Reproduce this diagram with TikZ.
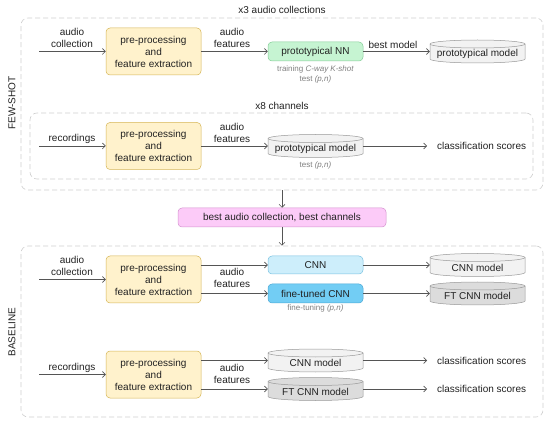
\documentclass[tikz,border=0pt]{standalone}
\usepackage{fontspec}
\setmainfont{Liberation Sans}
\usetikzlibrary{arrows.meta}
\definecolor{procfill}{HTML}{FFF2CC}
\definecolor{procline}{HTML}{D6B656}
\definecolor{nnfill}{HTML}{C6F4D2}
\definecolor{nnline}{HTML}{86CF99}
\definecolor{cnnfill}{HTML}{CDEEFB}
\definecolor{cnnline}{HTML}{7CC3E2}
\definecolor{ftfill}{HTML}{72CDF4}
\definecolor{ftline}{HTML}{4CA9D6}
\definecolor{pinkfill}{HTML}{FCCBF8}
\definecolor{pinkline}{HTML}{D593D0}
\definecolor{cylfill}{HTML}{F2F2F2}
\definecolor{cylftfill}{HTML}{DCDCDC}
\definecolor{cylline}{HTML}{999999}
\definecolor{grpline}{HTML}{D0D0D0}
\definecolor{arrowgray}{HTML}{555555}
\definecolor{notegray}{HTML}{808080}
\definecolor{txt}{HTML}{222222}

\tikzset{
  lbl/.style={font=\fontsize{10}{12}\selectfont, text=txt, align=center, inner sep=0},
  note/.style={font=\fontsize{8}{10}\selectfont, text=notegray, align=center, inner sep=0},
  proc/.style={lbl, draw=procline, fill=procfill, rounded corners=4pt, minimum width=95pt, minimum height=47pt, line width=0.5pt},
  modbox/.style={lbl, rounded corners=4pt, minimum width=95pt, minimum height=19pt, line width=0.5pt},
  grp/.style={draw=grpline, dash pattern=on 5pt off 3pt, rounded corners=7pt, inner sep=0, line width=0.6pt},
  arr/.style={draw=arrowgray, line width=0.6pt, -{Straight Barb[length=3pt,width=6pt]}},
  cylbox/.style={minimum width=95pt, minimum height=23pt, inner sep=0},
}

\newcommand{\dbcyl}[5]{%
  \path[fill=#4, draw=cylline, line width=0.5pt] (#2-47.5,#3+7.5) -- (#2-47.5,#3-7.5)
    arc[start angle=180,end angle=360,x radius=47.5,y radius=4] -- (#2+47.5,#3+7.5)
    arc[start angle=0,end angle=180,x radius=47.5,y radius=4] -- cycle;
  \draw[cylline, line width=0.5pt] (#2-47.5,#3+7.5) arc[start angle=180,end angle=360,x radius=47.5,y radius=4];
  \node[cylbox] (#1) at (#2,#3) {};
  \node[lbl] at ([yshift=-2.5pt]#1.center) {#5};
}

\begin{document}
\begin{tikzpicture}[x=1pt,y=1pt]
\useasboundingbox (0,0) rectangle (550,424);
\fill[white] (0,0) rectangle (550,424);

% groups
\node[grp, minimum width=522pt, minimum height=172pt] (fewshot) at (282,320) {};
\node[grp, minimum width=503pt, minimum height=66pt] (channels) at (281.5,278) {};
\node[grp, minimum width=522pt, minimum height=171pt] (baseline) at (282,92.5) {};

\node[lbl] at (282,414) {x3 audio collections};
\node[lbl] at (282,318.5) {x8 channels};
\node[lbl, rotate=90] at (12,321) {FEW-SHOT};
\node[lbl, rotate=90] at (12,92) {BASELINE};

% ---- few-shot row 1
\coordinate (in1) at (39,372.5);
\node[proc] (p1) at (153.5,372.5) {pre-processing\\and\\feature extraction};
\node[modbox, draw=nnline, fill=nnfill] (nn) at (315.5,372.5) {prototypical NN};
\dbcyl{cyl1}{477.5}{372.5}{cylfill}{prototypical model}
\draw[arr] (in1) -- (p1.west);
\node[lbl, anchor=south] at (72,376) {audio\\collection};
\draw[arr] (p1.east) -- (nn.west);
\node[lbl, anchor=south] at (232,376) {audio\\features};
\draw[arr] (nn.east) -- (nn.east -| cyl1.west);
\node[lbl, anchor=base] at (393,375.5) {best model};
\node[note] at (315.5,350) {training \textit{C-way K-shot}\\test \textit{(p,n)}};

% ---- few-shot row 2
\coordinate (in2) at (39,278);
\node[proc] (p2) at (153.5,278) {pre-processing\\and\\feature extraction};
\dbcyl{cyl2}{315.5}{278}{cylfill}{prototypical model}
\node[lbl, anchor=west] (cs1) at (437,278) {classification scores};
\draw[arr] (in2) -- (p2.west);
\node[lbl, anchor=base] at (72,282) {recordings};
\draw[arr] (p2.east) -- (p2.east -| cyl2.west);
\node[lbl, anchor=south] at (232,281.5) {audio\\features};
\draw[arr] (cyl2.east) -- ([xshift=-10pt]cs1.west);
\node[note] at (315.5,259) {test \textit{(p,n)}};

% ---- best selection
\node[modbox, draw=pinkline, fill=pinkfill, minimum width=208pt] (pink) at (282,206.5) {best audio collection, best channels};
\draw[arr] (fewshot.south) -- (pink.north);
\draw[arr] (pink.south) -- (baseline.north);

% ---- baseline row 1
\coordinate (in3) at (39,144.5);
\node[proc] (p3) at (153.5,144.5) {pre-processing\\and\\feature extraction};
\node[modbox, draw=cnnline, fill=cnnfill, minimum height=18pt] (cnn) at (315.5,159) {CNN};
\node[modbox, draw=ftline, fill=ftfill] (ft) at (315.5,130.5) {fine-tuned CNN};
\dbcyl{cyl3}{477.5}{159}{cylfill}{CNN model}
\dbcyl{cyl4}{477.5}{130.5}{cylftfill}{FT CNN model}
\draw[arr] (in3) -- (p3.west);
\node[lbl, anchor=south] at (72,148) {audio\\collection};
\draw[arr] (p3.east |- cnn.west) -- (cnn.west);
\draw[arr] (p3.east |- ft.west) -- (ft.west);
\node[lbl] at (232,146) {audio\\features};
\draw[arr] (cnn.east) -- (cnn.east -| cyl3.west);
\draw[arr] (ft.east) -- (ft.east -| cyl4.west);
\node[note] at (315.5,116) {fine-tuning \textit{(p,n)}};

% ---- baseline row 2
\coordinate (in4) at (39,49.5);
\node[proc] (p4) at (153.5,49.5) {pre-processing\\and\\feature extraction};
\dbcyl{cyl5}{315.5}{63.5}{cylfill}{CNN model}
\dbcyl{cyl6}{315.5}{35}{cylftfill}{FT CNN model}
\node[lbl, anchor=west] (cs2) at (437,63.5) {classification scores};
\node[lbl, anchor=west] (cs3) at (437,35) {classification scores};
\draw[arr] (in4) -- (p4.west);
\node[lbl, anchor=base] at (72,53.5) {recordings};
\draw[arr] (p4.east |- cyl5.west) -- (cyl5.west);
\draw[arr] (p4.east |- cyl6.west) -- (cyl6.west);
\node[lbl] at (232,50) {audio\\features};
\draw[arr] (cyl5.east) -- ([xshift=-10pt]cs2.west);
\draw[arr] (cyl6.east) -- ([xshift=-10pt]cs3.west);
\end{tikzpicture}
\end{document}
